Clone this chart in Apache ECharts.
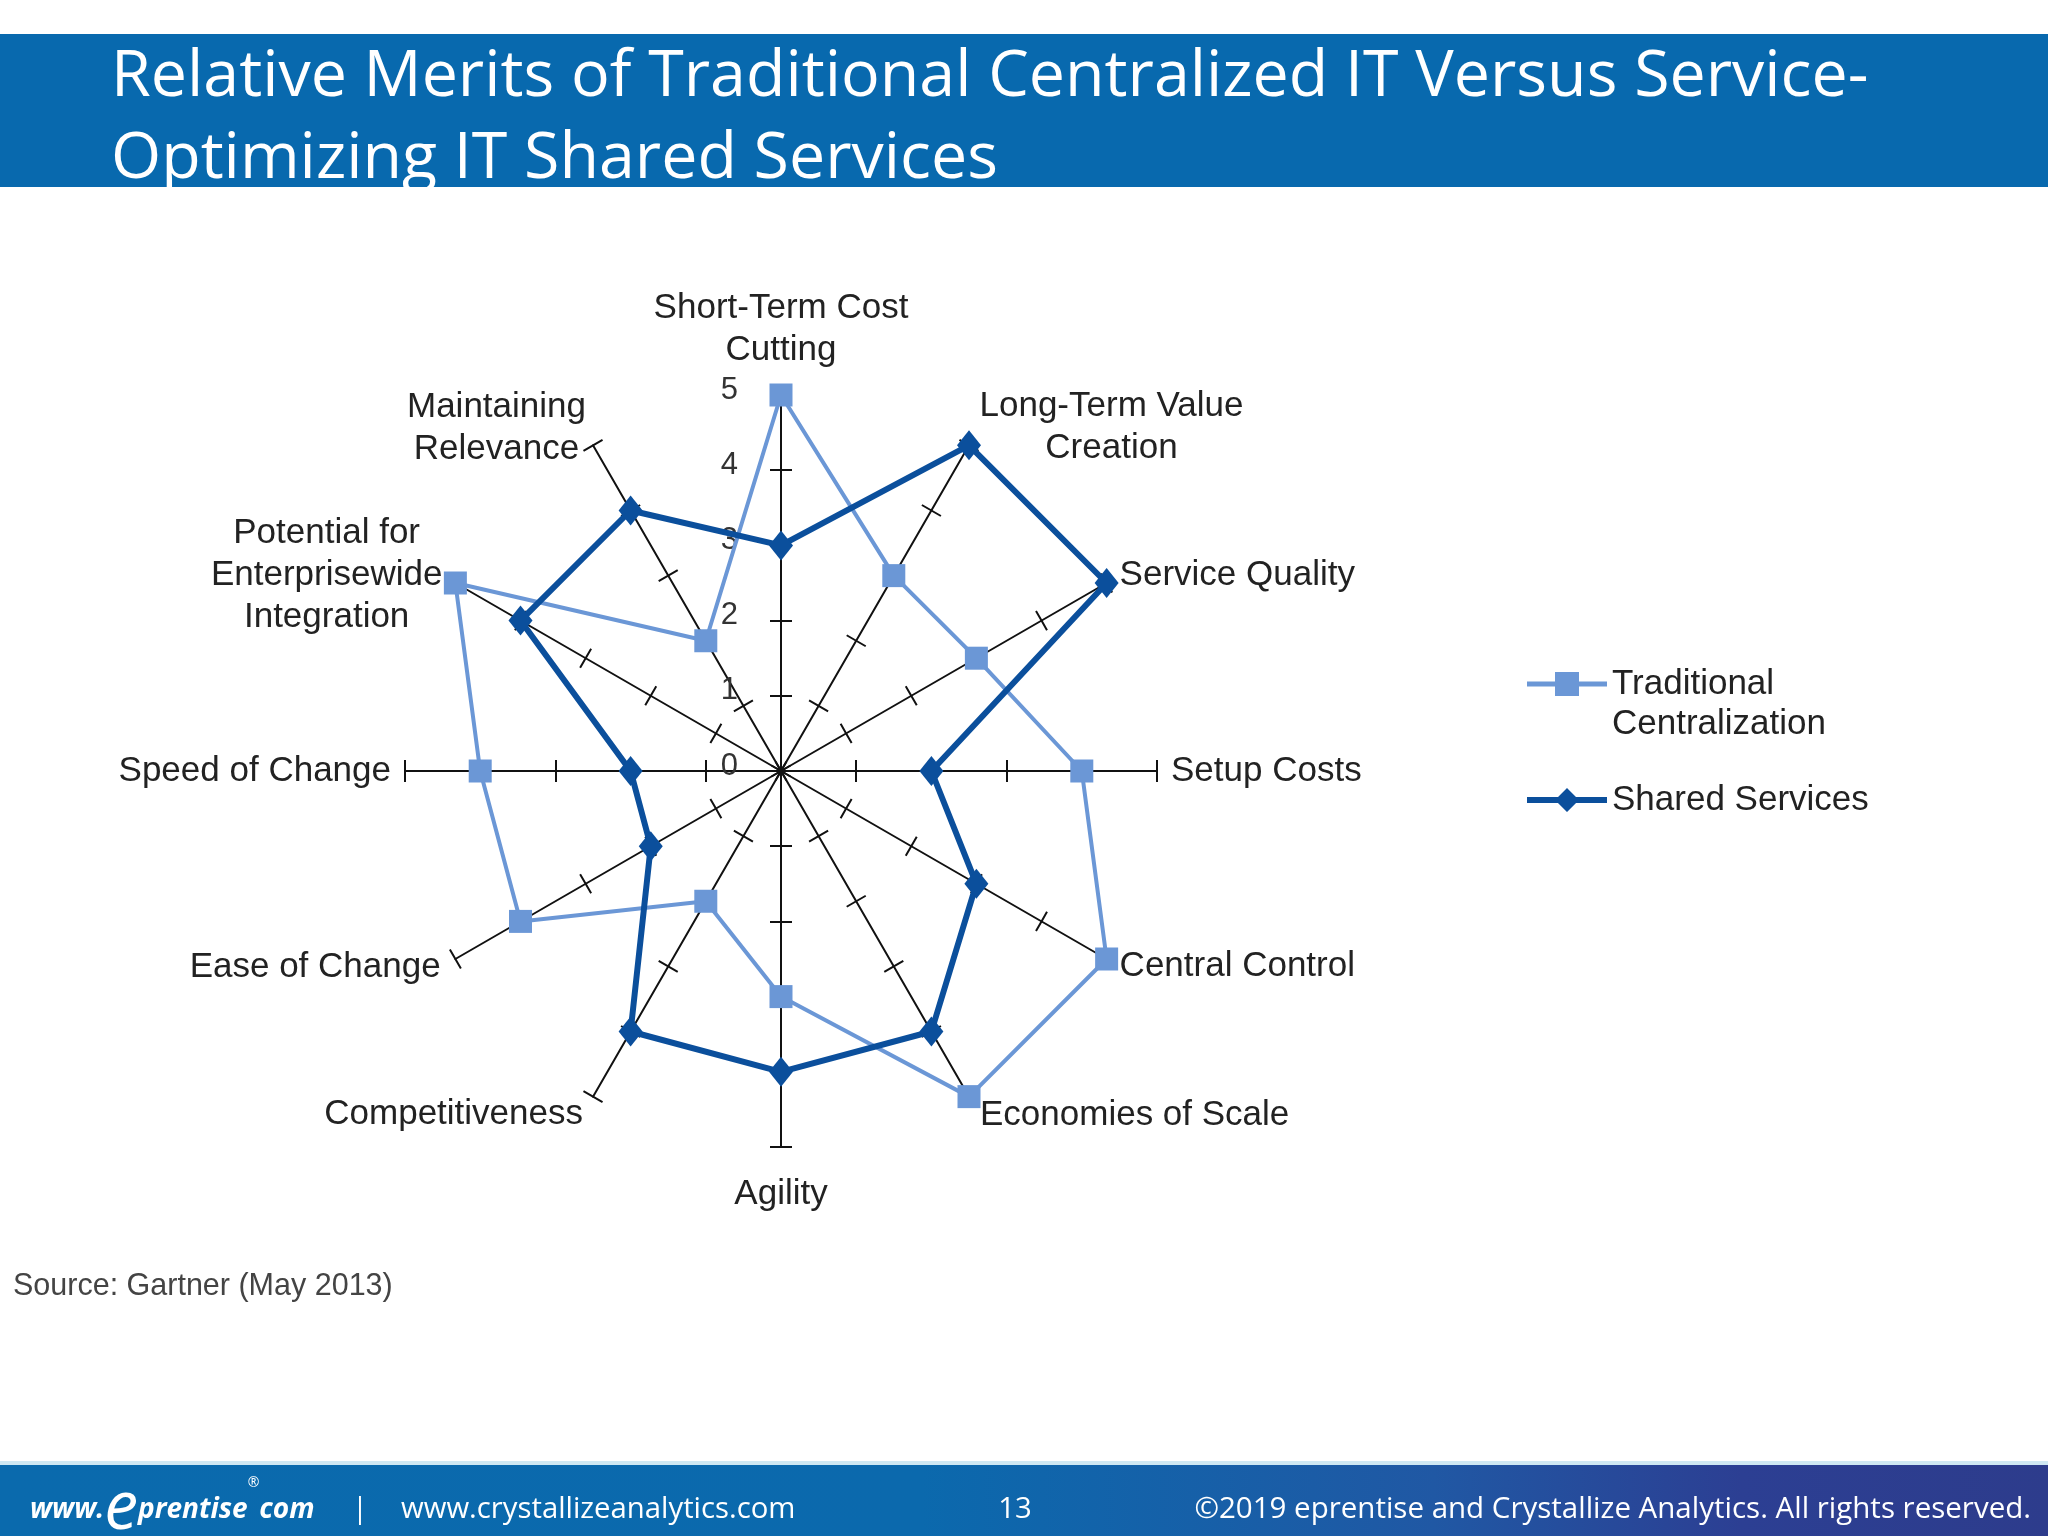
<!DOCTYPE html>
<html><head><meta charset="utf-8">
<script src="https://cdn.jsdelivr.net/npm/echarts@6/dist/echarts.min.js"></script>
<style>html,body{margin:0;padding:0;background:#fff}#c{width:2048px;height:1536px}</style>
</head><body><div id="c"></div>
<script>
// Axes listed counter-clockwise starting at the top (ECharts radar order)
const indicatorNames = [
  'Short-Term Cost\nCutting',
  'Maintaining\nRelevance',
  'Potential for\nEnterprisewide\nIntegration',
  'Speed of Change',
  'Ease of Change',
  'Competitiveness',
  'Agility',
  'Economies of Scale',
  'Central Control',
  'Setup Costs',
  'Service Quality',
  'Long-Term Value\nCreation'
];
const traditional = [5, 2, 5, 4, 4, 2, 3, 5, 5, 4, 3, 3];
const shared      = [3, 4, 4, 2, 2, 4, 4, 4, 3, 2, 5, 5];
const seriesNames = ['Traditional Centralization', 'Shared Services'];
const legendLabels = ['\nTraditional\nCentralization', 'Shared Services'];
const tickLabels = ['0', '1', '2', '3', '4', '5'];
const axisMin = 0, axisMax = 5, axisSplit = 5;
// label distance from each axis end (same order as indicatorNames)
const nameGaps = [24, 14, 15, 14, 17, 20, 26, 22, 15, 14, 15, 21];
const nameLift = [0, 10, 0, 0, 0, 0, 0, 0, 0, 0, 0, 0];

const C_TRAD = '#6b97d6';
const C_SHARED = '#0b4f9c';
const FONT = 'Liberation Sans, Arial, sans-serif';

const chart = echarts.init(document.getElementById('c'), null, {renderer: 'canvas'});

function centered(v) {
  return v.split('\n').map(l => '{c|' + l + '}').join('\n');
}

const baseRadar = {
  center: [781, 771],
  radius: 376,
  startAngle: 90,
  splitNumber: axisSplit,
  shape: 'polygon',
  splitLine: {show: false},
  splitArea: {show: false}
};

const option = {
  animation: false,
  backgroundColor: '#ffffff',
  title: {
    text: 'Relative Merits of Traditional Centralized IT Versus Service-\nOptimizing IT Shared Services',
    left: 111, top: 37, padding: 0, z: 10,
    textStyle: {color: '#ffffff', fontFamily: 'Open Sans', fontWeight: 'normal', fontSize: 64.5, lineHeight: 82}
  },
  legend: {
    orient: 'vertical', left: 1522, top: 619,
    itemWidth: 80, itemHeight: 24, itemGap: 36,
    selectedMode: false,
    formatter: n => legendLabels[seriesNames.indexOf(n)],
    textStyle: {fontFamily: FONT, fontSize: 35, color: '#222', lineHeight: 40},
    data: [
      {name: seriesNames[0], icon: 'path://M0,9.5L80,9.5L80,14.5L0,14.5Z M28,0L52,0L52,24L28,24Z',
        itemStyle: {color: C_TRAD, borderWidth: 0}},
      {name: seriesNames[1], icon: 'path://M0,9L80,9L80,15L0,15Z M40,0L52,12L40,24L28,12Z',
        itemStyle: {color: C_SHARED, borderWidth: 0}}
    ]
  },
  radar: [
    Object.assign({}, baseRadar, {
      indicator: indicatorNames.map((n, i) => ({
        name: n, min: axisMin, max: axisMax, nameGap: nameGaps[i],
        nameTextStyle: {padding: [0, 0, nameLift[i], 0]},
        axisLabel: i === 0 ? {show: true, color: '#333', fontFamily: FONT, fontSize: 31, margin: 43,
          verticalAlign: 'bottom', lineHeight: 10,
          formatter: v => tickLabels[Math.round(v)]} : {show: false}
      })),
      axisName: {
        color: '#222', fontFamily: FONT, fontSize: 35,
        formatter: centered,
        rich: {c: {align: 'center', fontFamily: FONT, fontSize: 35, lineHeight: 42, color: '#222'}}
      },
      axisNameGap: 14,
      axisLine: {show: true, lineStyle: {color: '#111', width: 2}},
      axisTick: {show: true, length: 11, lineStyle: {color: '#111', width: 2}},
      axisLabel: {show: false}
    }),
    Object.assign({}, baseRadar, {
      indicator: indicatorNames.map(n => ({name: n, min: axisMin, max: axisMax})),
      axisName: {show: false},
      axisLine: {show: false},
      axisTick: {show: true, length: -11, lineStyle: {color: '#111', width: 2}},
      axisLabel: {show: false}
    })
  ],
  series: [
    {
      type: 'radar', radarIndex: 0, name: seriesNames[0], z: 3,
      symbol: 'rect', symbolSize: 23,
      lineStyle: {color: C_TRAD, width: 4},
      itemStyle: {color: C_TRAD},
      data: [{name: seriesNames[0], value: traditional}]
    },
    {
      type: 'radar', radarIndex: 0, name: seriesNames[1], z: 4,
      symbol: 'diamond', symbolSize: [24, 30],
      lineStyle: {color: C_SHARED, width: 6},
      itemStyle: {color: C_SHARED},
      data: [{name: seriesNames[1], value: shared}]
    }
  ],
  graphic: [
    {type: 'rect', z: 1, shape: {x: 0, y: 34, width: 2048, height: 153}, style: {fill: '#0869ae'}},
    {type: 'rect', z: 1, shape: {x: 0, y: 1461, width: 2048, height: 4}, style: {fill: '#cfe8f3'}},
    {type: 'rect', z: 1, shape: {x: 0, y: 1465, width: 2048, height: 71},
      style: {fill: new echarts.graphic.LinearGradient(0, 0, 1, 0, [
        {offset: 0, color: '#0a6aad'}, {offset: 0.45, color: '#0b69ad'},
        {offset: 0.7, color: '#2058a4'}, {offset: 0.85, color: '#2c3f93'}, {offset: 1, color: '#2d3c8c'}])}},
    {type: 'text', z: 5, x: 30, y: 1510,
      style: {text: '{a|www.}{b|e}{a|prentise}{s|®}{a|com}', verticalAlign: 'middle',
        rich: {
          a: {fill: '#fff', fontFamily: 'Open Sans', fontStyle: 'italic', fontSize: 28, fontWeight: 'bold'},
          b: {fill: '#fff', fontFamily: 'Open Sans', fontStyle: 'italic', fontSize: 68},
          s: {fill: '#fff', fontFamily: 'Open Sans', fontSize: 14, verticalAlign: 'top'}
        }}},
    {type: 'text', z: 5, x: 352, y: 1510, style: {text: '|', fill: '#fff', fontFamily: 'Open Sans', fontSize: 29, verticalAlign: 'middle'}},
    {type: 'text', z: 5, x: 401, y: 1510, style: {text: 'www.crystallizeanalytics.com', fill: '#fff', fontFamily: 'Open Sans', fontSize: 29.3, verticalAlign: 'middle'}},
    {type: 'text', z: 5, x: 1015, y: 1510, style: {text: '13', fill: '#fff', fontFamily: 'Open Sans', fontSize: 29.3, align: 'center', verticalAlign: 'middle'}},
    {type: 'text', z: 5, x: 2031, y: 1510, style: {text: '©2019 eprentise and Crystallize Analytics. All rights reserved.', fill: '#fff', fontFamily: 'Open Sans', fontSize: 29.5, align: 'right', verticalAlign: 'middle'}},
    {type: 'text', z: 5, x: 13, y: 1287, style: {text: 'Source: Gartner (May 2013)', fill: '#444', fontFamily: FONT, fontSize: 30.5, verticalAlign: 'middle'}}
  ]
};
chart.setOption(option);
</script></body></html>
